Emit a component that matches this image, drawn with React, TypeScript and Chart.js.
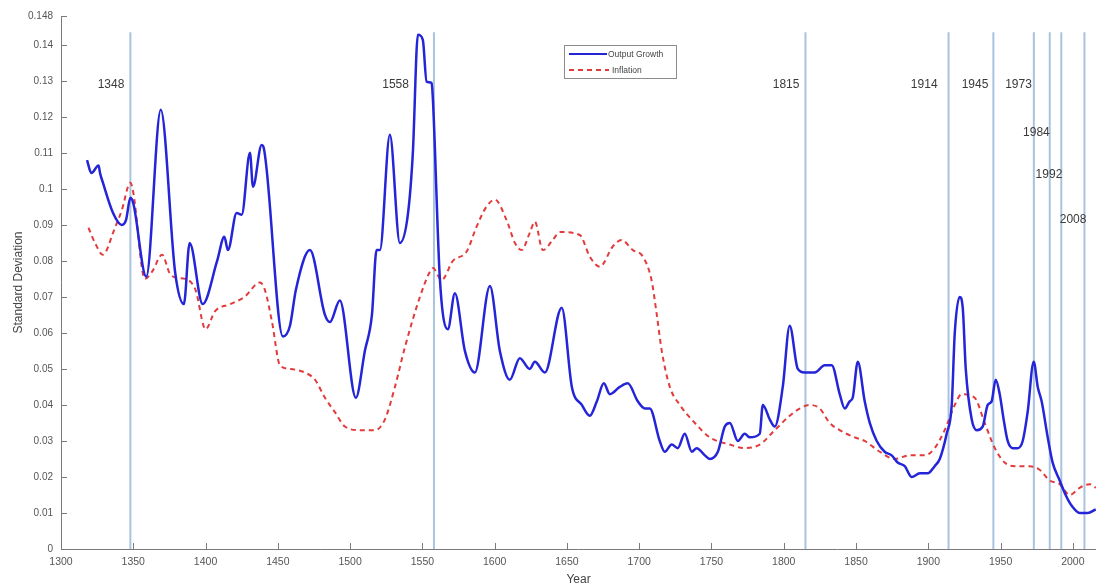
import React, { useEffect, useRef } from "react";
import { Chart, registerables } from "chart.js";

Chart.register(...registerables);

const outputYears = [
  1318, 1321, 1326, 1327, 1329, 1336, 1342, 1345, 1348, 1350, 1359, 1369, 1379, 1385, 1389, 1398,
  1408, 1413, 1415.5, 1421.5, 1425, 1430.7, 1432.8, 1438.8, 1440, 1453.5, 1458.4, 1462.5, 1472.2,
  1482.6, 1486, 1492.9, 1504, 1510.2, 1515.1, 1518.3, 1520.6, 1527.5, 1534.4, 1540, 1543.4, 1546.9,
  1550.3, 1552.9, 1556.4, 1557.3, 1562.1, 1567.6, 1572.5, 1579.4, 1586.3, 1596.7, 1603.6, 1610.5,
  1617.4, 1624.3, 1627.8, 1634.7, 1646.4, 1653.4, 1660.3, 1665.8, 1670.7, 1675.5, 1679.7, 1686.6,
  1692.1, 1699, 1703.9, 1707.3, 1714.2, 1717.7, 1722.5, 1726.7, 1731.5, 1736.4, 1739.8, 1745.4,
  1748.8, 1754.4, 1759.2, 1762.7, 1768.2, 1773, 1776.5, 1783.4, 1785.5, 1790.3, 1793.8, 1799.3,
  1804.1, 1809.7, 1814.5, 1821.4, 1828.4, 1833.2, 1838.7, 1842.2, 1845.6, 1847.7, 1851.2, 1856,
  1859.5, 1864.3, 1869.8, 1874.7, 1878.8, 1883.7, 1888.5, 1894.1, 1899.6, 1904.4, 1907.9, 1912.7,
  1916.2, 1918.3, 1921.7, 1923.8, 1925.9, 1930, 1933.5, 1937.6, 1941.1, 1943.8, 1946.6, 1949.4,
  1952.1, 1954.9, 1958.4, 1961.8, 1965.3, 1968.7, 1972.9, 1975.7, 1978.4, 1982.6, 1986, 1990.9,
  1995, 1999.2, 2004.7, 2010.2, 2015.8,
];
const outputValues = [
  0.108, 0.1044, 0.1065, 0.1044, 0.1017, 0.0933, 0.09, 0.0914, 0.0975, 0.096, 0.0756, 0.122, 0.0767,
  0.068, 0.085, 0.068, 0.08, 0.0867, 0.083, 0.0933, 0.0928, 0.11, 0.1006, 0.1122, 0.1117, 0.059,
  0.062, 0.072, 0.083, 0.065, 0.063, 0.069, 0.042, 0.055, 0.065, 0.083, 0.083, 0.115, 0.085, 0.093,
  0.11, 0.1428, 0.1414, 0.1298, 0.1294, 0.1247, 0.075, 0.061, 0.071, 0.055, 0.049, 0.073, 0.055,
  0.047, 0.053, 0.05, 0.052, 0.049, 0.067, 0.045, 0.04, 0.037, 0.041, 0.046, 0.043, 0.045, 0.046,
  0.041, 0.039, 0.039, 0.03, 0.027, 0.029, 0.028, 0.032, 0.027, 0.028, 0.026, 0.025, 0.027, 0.034,
  0.035, 0.03, 0.032, 0.031, 0.032, 0.04, 0.036, 0.034, 0.045, 0.062, 0.05, 0.049, 0.049, 0.051,
  0.051, 0.043, 0.039, 0.041, 0.042, 0.052, 0.041, 0.035, 0.03, 0.027, 0.026, 0.024, 0.023, 0.02,
  0.021, 0.021, 0.023, 0.025, 0.032, 0.04, 0.06, 0.07, 0.067, 0.05, 0.036, 0.033, 0.034, 0.04,
  0.041, 0.047, 0.043, 0.036, 0.03, 0.028, 0.028, 0.03, 0.038, 0.052, 0.045, 0.041, 0.031, 0.024,
  0.019, 0.015, 0.012, 0.01, 0.01, 0.011,
];

const inflationYears = [
  1319, 1323.5, 1329, 1331.6, 1336, 1342, 1348, 1350, 1358, 1363, 1370, 1375, 1380, 1386, 1393, 1400,
  1406.5, 1417, 1427, 1437.6, 1441, 1446, 1451.5, 1458.4, 1468.7, 1475.7, 1482.6, 1489.5, 1496.4,
  1506.8, 1517.2, 1524.1, 1531, 1537.9, 1548.3, 1555.2, 1557.3, 1563.3, 1571.1, 1580.6, 1587.5,
  1594.4, 1600.1, 1608.2, 1614, 1618.6, 1624.3, 1627.8, 1633.3, 1640.2, 1645.1, 1658.9, 1665.8,
  1672.8, 1681.7, 1687.8, 1695.6, 1702.5, 1708.5, 1712, 1715.6, 1721.2, 1728.1, 1738.5, 1748.8,
  1762.7, 1773, 1783.4, 1793.8, 1804.1, 1811, 1818, 1824.9, 1831.8, 1838.7, 1849.1, 1856, 1866.4,
  1876.8, 1887.1, 1897.5, 1904.4, 1911.3, 1918.3, 1923.1, 1932.1, 1939, 1946, 1952.8, 1959.8,
  1970.1, 1977, 1984, 1990.9, 1997.8, 2004.7, 2011.6, 2015.8,
];
const inflationValues = [
  0.0892, 0.085, 0.0817, 0.083, 0.0878, 0.094, 0.1017, 0.099, 0.075, 0.077, 0.0817, 0.0767, 0.0753,
  0.075, 0.072, 0.061, 0.066, 0.068, 0.07, 0.074, 0.072, 0.063, 0.051, 0.05, 0.049, 0.047, 0.042,
  0.038, 0.034, 0.033, 0.033, 0.036, 0.045, 0.056, 0.07, 0.077, 0.078, 0.0747, 0.08, 0.0826, 0.0895,
  0.0951, 0.097, 0.0914, 0.085, 0.083, 0.0878, 0.0909, 0.083, 0.0858, 0.088, 0.0872, 0.0812, 0.0784,
  0.084, 0.0858, 0.083, 0.0812, 0.0747, 0.0655, 0.055, 0.045, 0.04, 0.035, 0.031, 0.029, 0.028,
  0.029, 0.033, 0.037, 0.039, 0.04, 0.039, 0.035, 0.033, 0.031, 0.03, 0.027, 0.025, 0.026, 0.026,
  0.028, 0.033, 0.04, 0.043, 0.042, 0.035, 0.028, 0.024, 0.023, 0.023, 0.022, 0.019, 0.018, 0.015,
  0.017, 0.018, 0.017,
];

const eventYears = [1348, 1558, 1815, 1914, 1945, 1973, 1984, 1992, 2008];
const eventLabels = ["1348", "1558", "1815", "1914", "1945", "1973", "1984", "1992", "2008"];
const eventLineTop = 0.1435;

const xTickValues = [1300, 1350, 1400, 1450, 1500, 1550, 1600, 1650, 1700, 1750, 1800, 1850, 1900, 1950, 2000];
const yTickValues = [0, 0.01, 0.02, 0.03, 0.04, 0.05, 0.06, 0.07, 0.08, 0.09, 0.1, 0.11, 0.12, 0.13, 0.14, 0.148];

const seriesNames = ["Output Growth", "Inflation"];

const BLUE = "#2424d8";
const RED = "#e23b3b";
const EVENT_COLOR = "#a9c3df";
const AXIS_COLOR = "#7a7a7a";
const TEXT_COLOR = "#555555";
const FONT = "'Liberation Sans', Arial, sans-serif";

// label placement for event annotations (pixel offset of text right edge from the line, value level)
const eventLabelOffsets = [-6, -25, -6, -11, -5, -2, 0, 1, 2];
const eventLabelLevels = [0.129, 0.129, 0.129, 0.129, 0.129, 0.129, 0.1156, 0.1039, 0.0914];

const decorPlugin = {
  id: "decor",
  afterDraw(chart: any) {
    const { ctx, chartArea, scales } = chart;
    const xs = scales.x;
    const ys = scales.y;
    ctx.save();
    // axis lines
    ctx.strokeStyle = AXIS_COLOR;
    ctx.lineWidth = 1;
    ctx.beginPath();
    ctx.moveTo(chartArea.left + 0.5, chartArea.top);
    ctx.lineTo(chartArea.left + 0.5, chartArea.bottom + 0.5);
    ctx.lineTo(chartArea.right, chartArea.bottom + 0.5);
    ctx.stroke();
    // inward ticks
    ctx.beginPath();
    xTickValues.forEach((v) => {
      const px = Math.round(xs.getPixelForValue(v)) + 0.5;
      ctx.moveTo(px, chartArea.bottom);
      ctx.lineTo(px, chartArea.bottom - 6);
    });
    yTickValues.forEach((v) => {
      const py = Math.round(ys.getPixelForValue(v)) + 0.5;
      ctx.moveTo(chartArea.left, py);
      ctx.lineTo(chartArea.left + 6, py);
    });
    ctx.stroke();

    // event labels
    ctx.fillStyle = "#3a3a3a";
    ctx.font = `12px ${FONT}`;
    ctx.textAlign = "right";
    ctx.textBaseline = "middle";
    eventYears.forEach((yr, i) => {
      const px = xs.getPixelForValue(yr) + eventLabelOffsets[i];
      const py = ys.getPixelForValue(eventLabelLevels[i]);
      ctx.fillText(eventLabels[i], px, py);
    });

    // legend
    const bx = 564, by = 45, bw = 112, bh = 33;
    ctx.fillStyle = "#ffffff";
    ctx.fillRect(bx, by, bw, bh);
    ctx.strokeStyle = "#8c8c8c";
    ctx.lineWidth = 1;
    ctx.strokeRect(bx + 0.5, by + 0.5, bw, bh);
    ctx.font = `8.5px ${FONT}`;
    ctx.textAlign = "left";
    ctx.fillStyle = "#444";
    // output growth
    ctx.strokeStyle = BLUE;
    ctx.lineWidth = 2;
    ctx.beginPath();
    ctx.moveTo(bx + 5, by + 9);
    ctx.lineTo(bx + 43, by + 9);
    ctx.stroke();
    ctx.fillText(seriesNames[0], bx + 44, by + 10);
    // inflation
    ctx.strokeStyle = RED;
    ctx.setLineDash([5, 4]);
    ctx.beginPath();
    ctx.moveTo(bx + 5, by + 25);
    ctx.lineTo(bx + 45, by + 25);
    ctx.stroke();
    ctx.setLineDash([]);
    ctx.fillText(seriesNames[1], bx + 48, by + 26);
    ctx.restore();
  },
};

export default function App() {
  const canvasRef = useRef<HTMLCanvasElement | null>(null);

  useEffect(() => {
    document.body.style.margin = "0";
    const canvas = canvasRef.current;
    if (!canvas) return;

    const eventDatasets = eventYears.map((yr) => ({
      label: "event" + yr,
      data: [
        { x: yr, y: 0 },
        { x: yr, y: eventLineTop },
      ],
      borderColor: EVENT_COLOR,
      borderWidth: 2,
      pointRadius: 0,
      showLine: true,
      order: 3,
    }));

    const chart = new Chart(canvas, {
      type: "scatter",
      data: {
        datasets: [
          ...eventDatasets,
          {
            label: seriesNames[1],
            data: inflationYears.map((x, i) => ({ x, y: inflationValues[i] })),
            borderColor: RED,
            borderWidth: 2,
            borderDash: [5, 4],
            pointRadius: 0,
            showLine: true,
            cubicInterpolationMode: "monotone",
            order: 2,
          },
          {
            label: seriesNames[0],
            data: outputYears.map((x, i) => ({ x, y: outputValues[i] })),
            borderColor: BLUE,
            borderWidth: 2.5,
            pointRadius: 0,
            showLine: true,
            cubicInterpolationMode: "monotone",
            order: 1,
          },
        ] as any,
      },
      options: {
        responsive: false,
        animation: false,
        events: [],
        layout: { padding: { top: 16, left: 0, right: 0, bottom: 0 } },
        plugins: {
          legend: { display: false },
          tooltip: { enabled: false },
        },
        scales: {
          x: {
            type: "linear",
            min: 1300,
            max: 2016,
            afterBuildTicks: (s: any) => {
              s.ticks = xTickValues.map((value) => ({ value }));
            },
            afterFit: (s: any) => {
              s.height = 38;
            },
            grid: { display: false, drawTicks: false },
            border: { display: false },
            ticks: {
              color: TEXT_COLOR,
              font: { family: FONT, size: 10.5 },
              padding: 7,
              maxRotation: 0,
              autoSkip: false,
              callback: (v: any) => String(v),
            },
            title: {
              display: true,
              text: "Year",
              color: "#444",
              font: { family: FONT, size: 12 },
              padding: { top: 0, bottom: 0 },
            },
          },
          y: {
            type: "linear",
            min: 0,
            max: 0.148,
            afterBuildTicks: (s: any) => {
              s.ticks = yTickValues.map((value) => ({ value }));
            },
            afterFit: (s: any) => {
              s.width = 61;
            },
            grid: { display: false, drawTicks: false },
            border: { display: false },
            ticks: {
              color: TEXT_COLOR,
              font: { family: FONT, size: 10 },
              padding: 8,
              autoSkip: false,
              callback: (v: any) => String(Math.round(Number(v) * 1000) / 1000),
            },
            title: {
              display: true,
              text: "Standard Deviation",
              color: "#444",
              font: { family: FONT, size: 12 },
              padding: { top: 11, bottom: 0 },
            },
          },
        },
      } as any,
      plugins: [decorPlugin],
    });

    return () => chart.destroy();
  }, []);

  return (
    <div style={{ position: "fixed", left: 0, top: 0, width: 1096, height: 587, background: "#fff" }}>
      <canvas ref={canvasRef} width={1096} height={587} style={{ display: "block" }} />
    </div>
  );
}
